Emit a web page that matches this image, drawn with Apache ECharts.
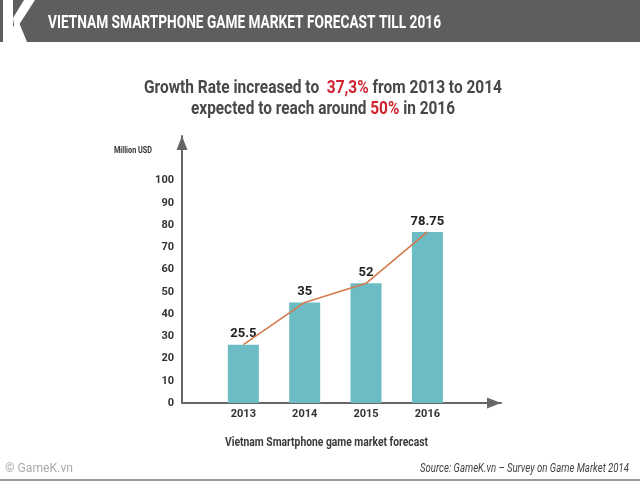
<!DOCTYPE html>
<html><head><meta charset="utf-8">
<script src="https://cdn.jsdelivr.net/npm/echarts@6/dist/echarts.min.js"></script>
<style>html,body{margin:0;padding:0;background:#fff}#c{width:640px;height:481px}</style>
</head><body><div id="c"></div>
<script>
const years = ['2013', '2014', '2015', '2016'];
const barValues = [26.2, 45.2, 53.8, 76.9];
const barLabels = ['25.5', '35', '52', '78.75'];
const yMax = 120;
const yLabelMax = 100;

const F = "Roboto, 'DejaVu Sans', sans-serif";
const cv = document.createElement('canvas').getContext('2d');
function measure(text, font) { cv.font = font; return cv.measureText(text).width; }

function ctext(text, font, fill, x, y, targetW, align, extra) {
  const w = measure(text, font);
  const s = targetW / w;
  return Object.assign({
    type: 'text', x: x, y: y, scaleX: s, scaleY: 1, silent: true,
    style: { text: text, font: font, fill: fill, align: align || 'left', verticalAlign: 'middle' }
  }, extra || {});
}
function richLine(parts, size, x, y, targetW) {
  const font = 'bold ' + size + 'px ' + F;
  const full = parts.map(p => p[0]).join('');
  const s = targetW / measure(full, font);
  const txt = parts.map(p => '{' + p[1] + '|' + p[0] + '}').join('');
  return {
    type: 'text', x: x, y: y, scaleX: s, silent: true,
    style: { text: txt, align: 'center', verticalAlign: 'middle',
      rich: {
        a: { font: font, fill: '#484848' },
        r: { font: font, fill: '#d0222f' } } }
  };
}

const chart = echarts.init(document.getElementById('c'));
const pts = years.map((y, i) => [i, barValues[i]]);
chart.setOption({
  animation: false,
  backgroundColor: '#ffffff',
  graphic: [
    { type: 'rect', shape: { x: 0, y: 0, width: 640, height: 42 }, style: { fill: '#5f5d5d' } },
    { type: 'polygon', shape: { points: [[3,0],[13,0],[13,42],[3,42]] }, style: { fill: '#ffffff' } },
    { type: 'polygon', shape: { points: [[13,18],[24,0],[35,0],[15,31]] }, style: { fill: '#ffffff' } },
    { type: 'polygon', shape: { points: [[13,27],[18,20],[27,42],[25,46],[13,46]] }, style: { fill: '#ffffff' } },
    { type: 'rect', shape: { x: 0, y: 479, width: 640, height: 2 }, style: { fill: '#9a9a9a' } },
    ctext('VIETNAM SMARTPHONE GAME MARKET FORECAST TILL 2016', 'bold 19px ' + F, '#ffffff', 48, 23, 393),
    richLine([['Growth Rate increased to  ', 'a'], ['37,3%', 'r'], [' from 2013 to 2014', 'a']], 18, 323, 88, 358),
    richLine([['expected to reach around ', 'a'], ['50%', 'r'], [' in 2016', 'a']], 18, 323, 109, 264),
    ctext('Million USD', 'bold 9px ' + F, '#333333', 114, 151, 38),
    ctext('Vietnam Smartphone game market forecast', 'bold 12.5px ' + F, '#3a3a3a', 225, 443, 203),
    ctext('© GameK.vn', '13px ' + F, '#aaaaaa', 5, 469, 68),
    ctext('Source: GameK.vn – Survey on Game Market 2014', 'italic 12px ' + F, '#444444', 420, 469, 209)
  ],
  grid: { left: 182, top: 136, width: 319, bottom: 78, containLabel: false },
  xAxis: {
    type: 'value', min: -1, max: 4.2,
    splitLine: { show: false },
    axisLine: { show: true, onZero: false, symbol: ['none', 'triangle'], symbolSize: [11, 14], symbolOffset: [0, -7], lineStyle: { color: '#666', width: 2 } },
    axisTick: { show: false },
    axisLabel: { customValues: [0, 1, 2, 3], formatter: v => years[v], color: '#333', fontSize: 11, fontWeight: 'bold', fontFamily: F, margin: 6 }
  },
  yAxis: {
    type: 'value', min: 0, max: yMax, interval: 10,
    splitLine: { show: false },
    axisLine: { show: true, onZero: false, symbol: ['none', 'triangle'], symbolSize: [11, 14], symbolOffset: [0, -7], lineStyle: { color: '#666', width: 2 } },
    axisTick: { show: false },
    axisLabel: { formatter: v => (v <= yLabelMax ? String(v) : ''), color: '#333', fontSize: 11, fontWeight: 'bold', fontFamily: F, margin: 8 }
  },
  series: [
    { type: 'bar', data: pts, barWidth: 31, itemStyle: { color: '#6cbcc5' },
      label: { show: true, position: 'top', distance: 4, formatter: p => barLabels[p.dataIndex],
        color: '#222', fontSize: 13, fontWeight: 'bold', fontFamily: F } },
    { type: 'line', data: pts, showSymbol: false, symbol: 'none', z: 5,
      lineStyle: { color: '#d47a4c', width: 1.6 } }
  ]
});
</script></body></html>
